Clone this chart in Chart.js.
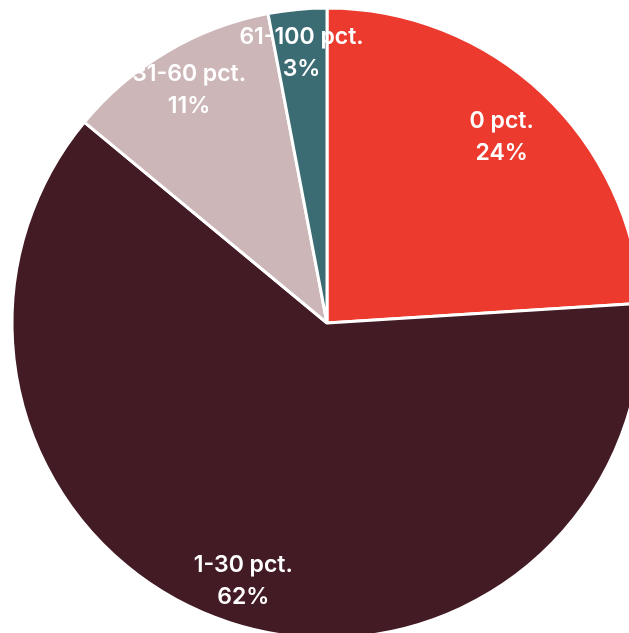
<!DOCTYPE html>
<html>
<head>
<meta charset="utf-8">
<script src="https://cdn.jsdelivr.net/npm/chart.js@4/dist/chart.umd.min.js"></script>
<style>
    html, body { margin: 0; padding: 0; background: #fff; overflow: hidden; }
    #wrap { position: absolute; left: 7px; top: 3px; width: 640px; height: 640px; }
</style>
</head>
<body>
<div id="wrap"><canvas id="myChart" width="640" height="640"></canvas></div>
<script>
// chart data
const categories = ['0 pct.', '1-30 pct.', '31-60 pct.', '61-100 pct.'];
const shares = [24, 62, 11, 3];
const colors = ['#ec3b2e', '#431b25', '#cdb6b8', '#3b6b73'];

// draw the category + percent labels inside each slice
const sliceLabels = {
    id: 'sliceLabels',
    afterDatasetsDraw(chart) {
        const ctx = chart.ctx;
        const meta = chart.getDatasetMeta(0);
        ctx.save();
        ctx.fillStyle = '#ffffff';
        ctx.textAlign = 'center';
        ctx.textBaseline = 'middle';
        ctx.font = '600 23px Inter, "Noto Sans", sans-serif';
        meta.data.forEach(function(arc, i) {
            const mid = (arc.startAngle + arc.endAngle) / 2;
            const r = arc.outerRadius * (i === 0 ? 0.81 : 0.86);
            const x = arc.x + Math.cos(mid) * r;
            const y = arc.y + Math.sin(mid) * r;
            ctx.fillText(categories[i], x, y - 16);
            ctx.fillText(shares[i] + '%', x, y + 16);
        });
        ctx.restore();
    }
};

const ctx = document.getElementById('myChart').getContext('2d');
new Chart(ctx, {
    type: 'pie',
    data: {
        labels: categories,
        datasets: [{
            data: shares,
            backgroundColor: colors,
            borderColor: '#ffffff',
            borderWidth: 3,
            radius: 315
        }]
    },
    options: {
        responsive: false,
        animation: false,
        layout: { padding: 0 },
        plugins: {
            legend: { display: false },
            tooltip: { enabled: false }
        }
    },
    plugins: [sliceLabels]
});
</script>
</body>
</html>
